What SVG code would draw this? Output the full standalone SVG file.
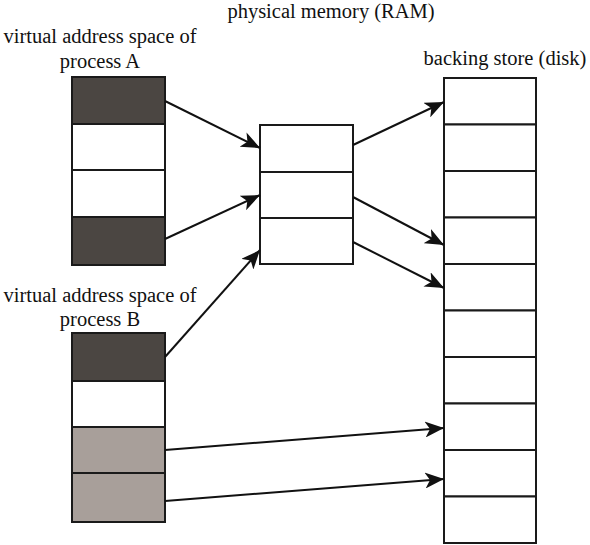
<svg xmlns="http://www.w3.org/2000/svg" width="590" height="545" viewBox="0 0 590 545">
<defs>
<style>
text{font-family:"Liberation Serif","Times New Roman",serif;font-size:20.5px;fill:#111}
.c{stroke:#1a1a1a;stroke-width:2}
.w{fill:#fff}
.d{fill:#4b4642}
.g{fill:#a89f9a}
.cn{stroke:#111;stroke-width:2;fill:none;marker-end:url(#ah)}
</style>
<marker id="ah" markerUnits="userSpaceOnUse" markerWidth="20" markerHeight="16" refX="19" refY="8" orient="auto">
<path d="M0,0 L19,8 L0,16 L5,8 Z" fill="#111"/>
</marker>
</defs>
<rect width="590" height="545" fill="#fff"/>
<g id="title-ram"><text x="331" y="18" text-anchor="middle">physical memory (RAM)</text></g>
<g id="label-a"><text x="100" y="43" text-anchor="middle">virtual address space of</text><text x="100" y="68" text-anchor="middle">process A</text></g>
<g id="label-disk"><text x="505" y="65" text-anchor="middle">backing store (disk)</text></g>
<g id="label-b"><text x="100" y="302" text-anchor="middle">virtual address space of</text><text x="100" y="326" text-anchor="middle">process B</text></g>
<g id="process-a">
<rect class="c d" x="72" y="77" width="93" height="47"/>
<rect class="c w" x="72" y="124" width="93" height="46"/>
<rect class="c w" x="72" y="170" width="93" height="47"/>
<rect class="c d" x="72" y="217" width="93" height="48"/>
</g>
<g id="ram">
<rect class="c w" x="260" y="125" width="93" height="47"/>
<rect class="c w" x="260" y="172" width="93" height="46"/>
<rect class="c w" x="260" y="218" width="93" height="46"/>
</g>
<g id="process-b">
<rect class="c d" x="72" y="333" width="93" height="48"/>
<rect class="c w" x="72" y="381" width="93" height="46"/>
<rect class="c g" x="72" y="427" width="93" height="46"/>
<rect class="c g" x="72" y="473" width="93" height="49"/>
</g>
<g id="disk">
<rect class="c w" x="444" y="78" width="92" height="46.5"/>
<rect class="c w" x="444" y="124.5" width="92" height="46.5"/>
<rect class="c w" x="444" y="171" width="92" height="46.5"/>
<rect class="c w" x="444" y="217.5" width="92" height="46.5"/>
<rect class="c w" x="444" y="264" width="92" height="46.5"/>
<rect class="c w" x="444" y="310.5" width="92" height="46.5"/>
<rect class="c w" x="444" y="357" width="92" height="46.5"/>
<rect class="c w" x="444" y="403.5" width="92" height="46.5"/>
<rect class="c w" x="444" y="450" width="92" height="46.5"/>
<rect class="c w" x="444" y="496.5" width="92" height="46.5"/>
</g>
<g id="connectors">
<line class="cn" x1="165" y1="101" x2="260" y2="148"/>
<line class="cn" x1="165" y1="239" x2="260" y2="195"/>
<line class="cn" x1="165" y1="357" x2="260" y2="250"/>
<line class="cn" x1="353" y1="145" x2="444" y2="102"/>
<line class="cn" x1="353" y1="197" x2="444" y2="245"/>
<line class="cn" x1="353" y1="242" x2="444" y2="288"/>
<line class="cn" x1="165" y1="450" x2="444" y2="428"/>
<line class="cn" x1="165" y1="501" x2="444" y2="479"/>
</g>
</svg>
